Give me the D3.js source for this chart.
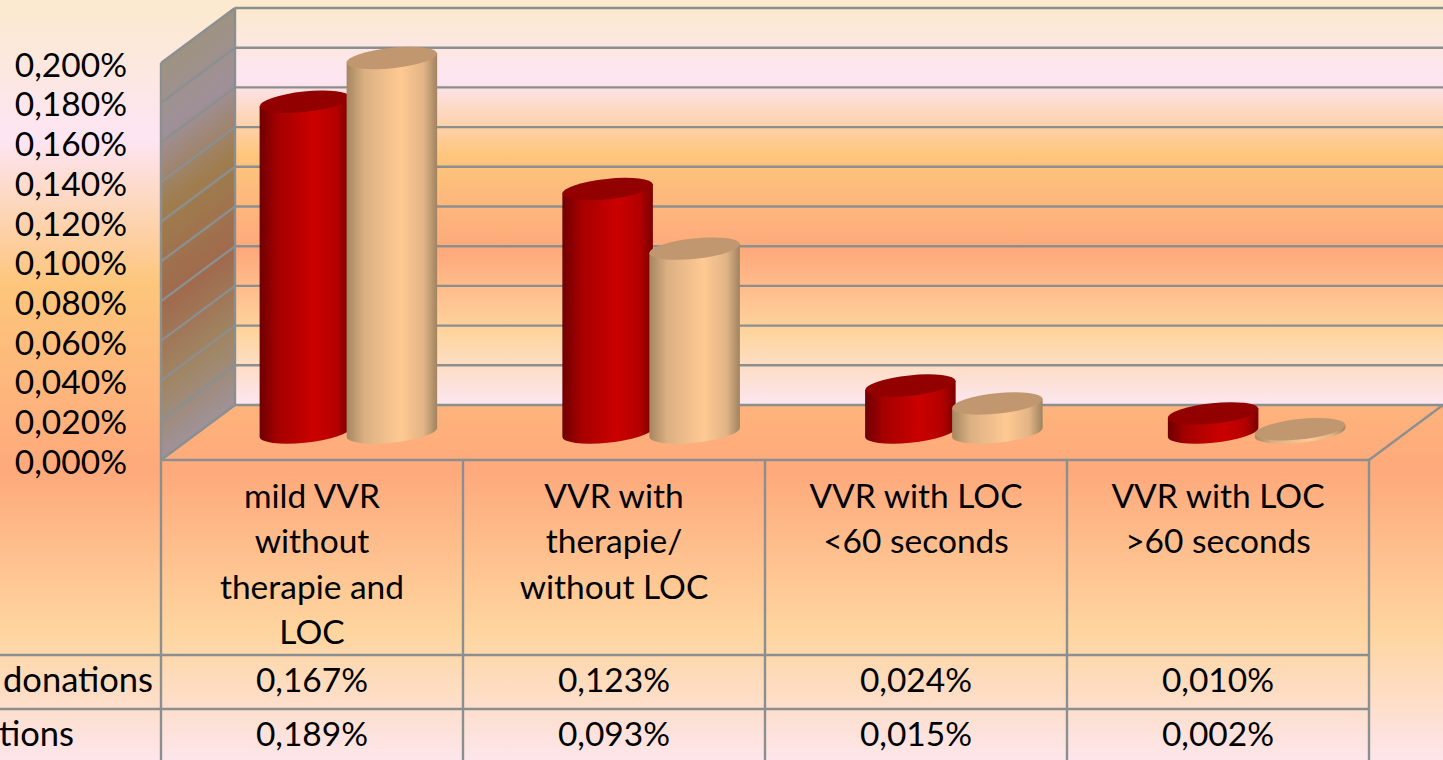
<!DOCTYPE html>
<html>
<head>
<meta charset="utf-8">
<script src="https://cdn.jsdelivr.net/npm/d3@7"></script>
<style>
  html, body { margin: 0; padding: 0; overflow: hidden; }
  svg { display: block; }
  text { font-family: Lato, "Open Sans", sans-serif; fill: #000; }
</style>
</head>
<body>
<script>
// chart values
const categories = ['mild VVR|without|therapie and|LOC', 'VVR with|therapie/|without LOC', 'VVR with LOC|<60 seconds', 'VVR with LOC|>60 seconds'];
const seriesNames = ['donations', 'tions'];   // the reference crops these on the left edge
const seriesA = [0.167, 0.123, 0.024, 0.010];
const seriesB = [0.189, 0.093, 0.015, 0.002];
const tickValues = [0, 0.02, 0.04, 0.06, 0.08, 0.1, 0.12, 0.14, 0.16, 0.18, 0.2];

const width = 1443, height = 760;
const digitSize = 33.5, labelSize = 33.5, nameSize = 34.5;
const left = 161, right = 1369, floorY = 460, topY = 63;
const depthX = 74, depthY = 55;
const rowY = [655, 709];
const gridColor = '#8b8f90';

const svg = d3.select('body').append('svg').attr('width', width).attr('height', height);
const defs = svg.append('defs');

// scales
const y = d3.scaleLinear().domain([0, 0.2]).range([floorY, topY]);
const x = d3.scaleBand().domain(categories).range([left, right]);
// cylinders stand mid depth, their spacing is a hair wider than the table
const xBars = d3.scaleBand().domain(categories).range([left + depthX / 2 - 1, left + depthX / 2 - 1 + 1211]);
const xSeries = d3.scalePoint().domain([0, 1]).range([-43.5, 43.5]);

const comma = d3.formatLocale({decimal: ',', thousands: '.', grouping: [3], currency: ['', '']}).format('.3f');
const pct = d => comma(d) + '%';

// backdrop gradient, shared by the slide and the back wall
const wallStops = [[0, '#fbeacd'], [0.18, '#fde5f3'], [0.37, '#fdc67c'], [0.61, '#fea97b'], [0.82, '#fed59f'], [1, '#fde7f1']];

function addGradient(id, stops, attrs) {
    const g = defs.append('linearGradient').attr('id', id);
    Object.keys(attrs).forEach(k => g.attr(k, attrs[k]));
    g.selectAll('stop').data(stops).join('stop')
        .attr('offset', d => d[0])
        .attr('stop-color', d => d[1]);
}

addGradient('bg', wallStops, {gradientUnits: 'userSpaceOnUse', x1: 0, y1: 0, x2: 0, y2: 770});
addGradient('wall', wallStops, {gradientUnits: 'userSpaceOnUse', x1: 0, y1: y(0.2) - depthY, x2: 0, y2: floorY - depthY});

// side wall: same colours, darker, bands running along the depth direction
const sideStops = wallStops.map(d => [d[0], d3.interpolateRgb(d[1], '#000')(0.37)]);
const midX = left + depthX / 2, midTop = y(0.2) - depthY / 2, wallH = floorY - topY;
addGradient('side', sideStops, {gradientUnits: 'userSpaceOnUse', x1: midX, y1: midTop,
    x2: midX + 0.598 * 0.8 * wallH, y2: midTop + 0.8 * 0.8 * wallH});

// cylinder shading, one per series
addGradient('red', [[0, '#6f0000'], [0.2, '#a50000'], [0.6, '#cb0000'], [0.85, '#b40000'], [1, '#7a0000']],
    {x1: 0, y1: 0, x2: 1, y2: 0});
addGradient('peach', [[0, '#a58660'], [0.2, '#dcb083'], [0.6, '#ffc992'], [0.85, '#e2b486'], [1, '#9f8360']],
    {x1: 0, y1: 0, x2: 1, y2: 0});

svg.append('rect').attr('width', width).attr('height', height).attr('fill', 'url(#bg)');

// walls
svg.append('rect')
    .attr('x', left + depthX).attr('y', y(0.2) - depthY)
    .attr('width', width - left - depthX + 5).attr('height', floorY - topY)
    .attr('fill', 'url(#wall)');

svg.append('path')
    .attr('d', d3.line()([[left, y(0.2)], [left + depthX, y(0.2) - depthY], [left + depthX, floorY - depthY], [left, floorY]]))
    .attr('fill', 'url(#side)');

// grid on back wall and side wall
const grid = svg.append('g').attr('stroke', gridColor).attr('stroke-width', 2.4).attr('fill', 'none');
grid.selectAll('.back').data(tickValues).join('line').attr('class', 'back')
    .attr('x1', left + depthX).attr('x2', width + 5)
    .attr('y1', d => y(d) - depthY).attr('y2', d => y(d) - depthY);
grid.selectAll('.side').data(tickValues).join('line').attr('class', 'side')
    .attr('x1', left).attr('x2', left + depthX)
    .attr('y1', d => y(d)).attr('y2', d => y(d) - depthY);
grid.append('line').attr('x1', left + depthX).attr('x2', left + depthX).attr('y1', y(0.2) - depthY).attr('y2', floorY - depthY);
grid.append('line').attr('x1', right).attr('x2', right + depthX).attr('y1', floorY).attr('y2', floorY - depthY);

// table lines
grid.append('line').attr('x1', left).attr('x2', right).attr('y1', floorY).attr('y2', floorY);
grid.selectAll('.row').data(rowY).join('line').attr('class', 'row')
    .attr('x1', 0).attr('x2', right).attr('y1', d => d).attr('y2', d => d);
grid.selectAll('.col').data(categories.concat(['end'])).join('line').attr('class', 'col')
    .attr('x1', d => d === 'end' ? right : x(d)).attr('x2', d => d === 'end' ? right : x(d))
    .attr('y1', floorY).attr('y2', height);
grid.append('line').attr('x1', left).attr('x2', left).attr('y1', y(0.2)).attr('y2', floorY);

// cylinders
const rx = 45.5, ry = 10.2, tilt = -6;
const rad = tilt * Math.PI / 180;
const edgeX = Math.sqrt(rx * rx * Math.cos(rad) ** 2 + ry * ry * Math.sin(rad) ** 2);
const edgeY = (rx * rx - ry * ry) * Math.sin(rad) * Math.cos(rad) / edgeX;

function cylinder(g, cx, v, fill, topFill) {
    const base = y(0) - depthY / 2, top = y(v) - depthY / 2 + 0.7;
    const side = 'M' + (cx - edgeX) + ',' + (top - edgeY)
        + 'L' + (cx - edgeX) + ',' + (base - edgeY)
        + 'A' + rx + ',' + ry + ' ' + tilt + ' 0 0 ' + (cx + edgeX) + ',' + (base + edgeY)
        + 'L' + (cx + edgeX) + ',' + (top + edgeY) + 'Z';
    g.append('path').attr('d', side).attr('fill', fill);
    g.append('ellipse')
        .attr('rx', rx).attr('ry', ry)
        .attr('transform', 'translate(' + cx + ',' + top + ') rotate(' + tilt + ')')
        .attr('fill', topFill);
}

const bars = svg.append('g');
categories.forEach((c, i) => {
    const cx = xBars(c) + xBars.bandwidth() / 2;
    cylinder(bars, cx + xSeries(0), seriesA[i], 'url(#red)', '#930000');
    cylinder(bars, cx + xSeries(1), seriesB[i], 'url(#peach)', '#c19770');
});

// y axis
const axis = svg.append('g')
    .attr('transform', 'translate(127,2.5)')
    .call(d3.axisLeft(y).tickValues(tickValues).tickSize(0).tickPadding(0).tickFormat(pct));
axis.select('.domain').remove();
axis.selectAll('text').attr('font-size', digitSize).attr('font-family', null);

// category cells
const lineH = 45.3, firstLine = 508;
const cells = svg.append('g').attr('font-size', labelSize).attr('text-anchor', 'middle');
cells.selectAll('text').data(categories).join('text')
    .attr('transform', d => 'translate(' + (x(d) + x.bandwidth() / 2) + ',' + firstLine + ')')
    .selectAll('tspan').data(d => d.split('|')).join('tspan')
    .attr('x', 0).attr('y', (d, i) => i * lineH)
    .text(d => d);

// data rows
const rows = [seriesA, seriesB];
const rowBase = [692, 746];
const table = svg.append('g').attr('font-size', digitSize).attr('text-anchor', 'middle');
rows.forEach((vals, r) => {
    table.append('g').selectAll('text').data(vals).join('text')
        .attr('x', (d, i) => x(categories[i]) + x.bandwidth() / 2)
        .attr('y', rowBase[r])
        .text(pct);
});

// row names, only the ends fall inside the picture
svg.append('g').attr('font-size', nameSize).selectAll('text').data(seriesNames).join('text')
    .attr('x', (d, i) => i === 0 ? 3 : -1)
    .attr('y', (d, i) => rowBase[i])
    .text(d => d);
</script>
</body>
</html>
